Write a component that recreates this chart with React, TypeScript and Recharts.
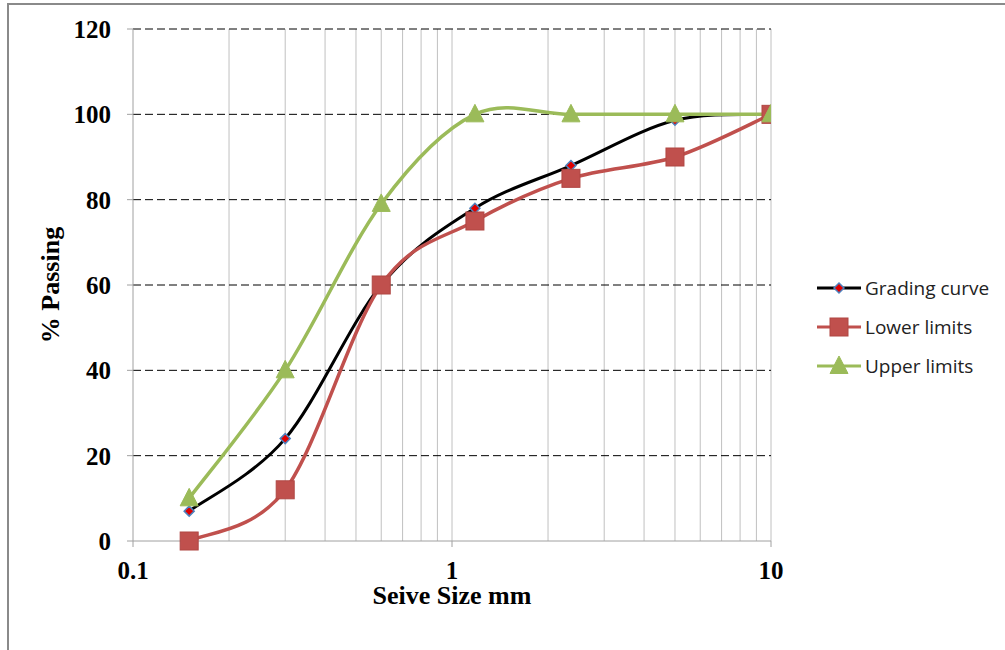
import React from "react"
import {
  LineChart,
  Line,
  XAxis,
  YAxis,
  ReferenceLine,
  Legend,
} from "recharts"

// sieve sizes (mm) and % passing
const sizes = [0.15, 0.3, 0.6, 1.18, 2.36, 5, 10]
const grading = [7, 24, 60, 78, 88, 98.6, 100]
const lowerLimits = [0, 12, 60, 75, 85, 90, 100]
const upperLimits = [10, 40, 79, 100, 100, 100, 100]

const xTicks = [0.1, 1, 10]
const yTicks = [0, 20, 40, 60, 80, 100, 120]
const xMinorGrid = [0.2, 0.3, 0.4, 0.5, 0.6, 0.7, 0.8, 0.9, 1, 2, 3, 4, 5, 6, 7, 8, 9, 10]
const yGrid = [20, 40, 60, 80, 100, 120]

const data = sizes.map((s, i) => ({
  size: s,
  grading: grading[i],
  lower: lowerLimits[i],
  upper: upperLimits[i],
}))

const RED = "#C0504D"
const GREEN = "#9BBB59"
const BLUE = "#4F81BD"

// Excel-like smoothed line (Catmull-Rom through the points)
function smoothCurve(context: any) {
  let pts: number[][] = []
  return {
    areaStart() {},
    areaEnd() {},
    lineStart() {
      pts = []
    },
    lineEnd() {
      const n = pts.length
      if (!n) return
      context.moveTo(pts[0][0], pts[0][1])
      for (let i = 0; i < n - 1; i++) {
        const p0 = pts[Math.max(i - 1, 0)]
        const p1 = pts[i]
        const p2 = pts[i + 1]
        const p3 = pts[Math.min(i + 2, n - 1)]
        context.bezierCurveTo(
          p1[0] + (p2[0] - p0[0]) / 6,
          p1[1] + (p2[1] - p0[1]) / 6,
          p2[0] - (p3[0] - p1[0]) / 6,
          p2[1] - (p3[1] - p1[1]) / 6,
          p2[0],
          p2[1]
        )
      }
    },
    point(x: number, y: number) {
      pts.push([+x, +y])
    },
  }
}

const Diamond = ({ cx, cy }: any) => (
  <polygon
    points={`${cx},${cy - 5} ${cx + 5},${cy} ${cx},${cy + 5} ${cx - 5},${cy}`}
    fill="#E00000"
    stroke={BLUE}
    strokeWidth={1.5}
  />
)
const Square = ({ cx, cy }: any) => (
  <rect x={cx - 9} y={cy - 9} width={18} height={18} fill={RED} stroke="#B04643" strokeWidth={1} />
)
const Triangle = ({ cx, cy }: any) => (
  <polygon
    points={`${cx},${cy - 10} ${cx + 9},${cy + 7.5} ${cx - 9},${cy + 7.5}`}
    fill={GREEN}
    stroke={GREEN}
    strokeWidth={1}
  />
)

const legendItems = [
  { label: "Grading curve", color: "#000", Marker: Diamond },
  { label: "Lower limits", color: RED, Marker: Square },
  { label: "Upper limits", color: GREEN, Marker: Triangle },
]

const renderLegend = () => (
  <div>
    {legendItems.map(({ label, color, Marker }) => (
      <div key={label} style={{ display: "flex", alignItems: "center", height: 39 }}>
        <svg width={46} height={22}>
          <line x1={1} y1={11} x2={45} y2={11} stroke={color} strokeWidth={3} />
          <Marker cx={23} cy={11} />
        </svg>
        <span
          style={{
            fontFamily: "'Open Sans', sans-serif",
            fontSize: 19,
            color: "#222",
            marginLeft: 3,
            whiteSpace: "nowrap",
          }}
        >
          {label}
        </span>
      </div>
    ))}
  </div>
)

const tickStyle = {
  fontFamily: "'Liberation Serif', 'Times New Roman', serif",
  fontSize: 25,
  fontWeight: 700,
  fill: "#000",
}

export default function App() {
  return (
    <div
      style={{
        position: "fixed",
        left: 0,
        top: 0,
        width: 1005,
        height: 650,
        background: "#fff",
        overflow: "hidden",
      }}
    >
      <div
        style={{
          position: "absolute",
          left: 7,
          top: 3,
          width: 1100,
          height: 800,
          border: "2px solid #8a8a8a",
          boxSizing: "border-box",
        }}
      />
      <LineChart
        width={1005}
        height={650}
        data={data}
        margin={{ top: 29, right: 44, bottom: 49, left: 0 }}
        style={{ position: "absolute", left: 0, top: 0 }}
      >
        {xMinorGrid.map((v) => (
          <ReferenceLine key={"x" + v} x={v} stroke="#c0c0c0" strokeWidth={1} />
        ))}
        {yGrid.map((v) => (
          <ReferenceLine key={"y" + v} y={v} stroke="#000" strokeWidth={1} strokeDasharray="8 4" />
        ))}
        <XAxis
          dataKey="size"
          type="number"
          scale="log"
          domain={[0.1, 10]}
          ticks={xTicks}
          allowDataOverflow
          height={60}
          stroke="#a0a0a0"
          tickSize={6}
          tickMargin={14}
          tick={tickStyle}
          label={{
            value: "Seive Size mm",
            position: "insideBottom",
            offset: -3,
            style: { ...tickStyle, fontSize: 26 },
          }}
        />
        <YAxis
          type="number"
          domain={[0, 120]}
          ticks={yTicks}
          width={133}
          stroke="#a0a0a0"
          tickSize={6}
          tickMargin={16}
          tick={tickStyle}
          label={{
            value: "% Passing",
            angle: -90,
            position: "insideLeft",
            offset: 50,
            style: { ...tickStyle, fontSize: 26, textAnchor: "middle" },
          }}
        />
        <Legend
          layout="vertical"
          verticalAlign="top"
          align="right"
          content={renderLegend}
          wrapperStyle={{ left: 816, top: 268, width: 190 }}
        />
        <Line
          dataKey="grading"
          type={smoothCurve as any}
          stroke="#000"
          strokeWidth={3}
          dot={<Diamond />}
          isAnimationActive={false}
        />
        <Line
          dataKey="lower"
          type={smoothCurve as any}
          stroke={RED}
          strokeWidth={3.5}
          dot={<Square />}
          isAnimationActive={false}
        />
        <Line
          dataKey="upper"
          type={smoothCurve as any}
          stroke={GREEN}
          strokeWidth={3.5}
          dot={<Triangle />}
          isAnimationActive={false}
        />
      </LineChart>
    </div>
  )
}
